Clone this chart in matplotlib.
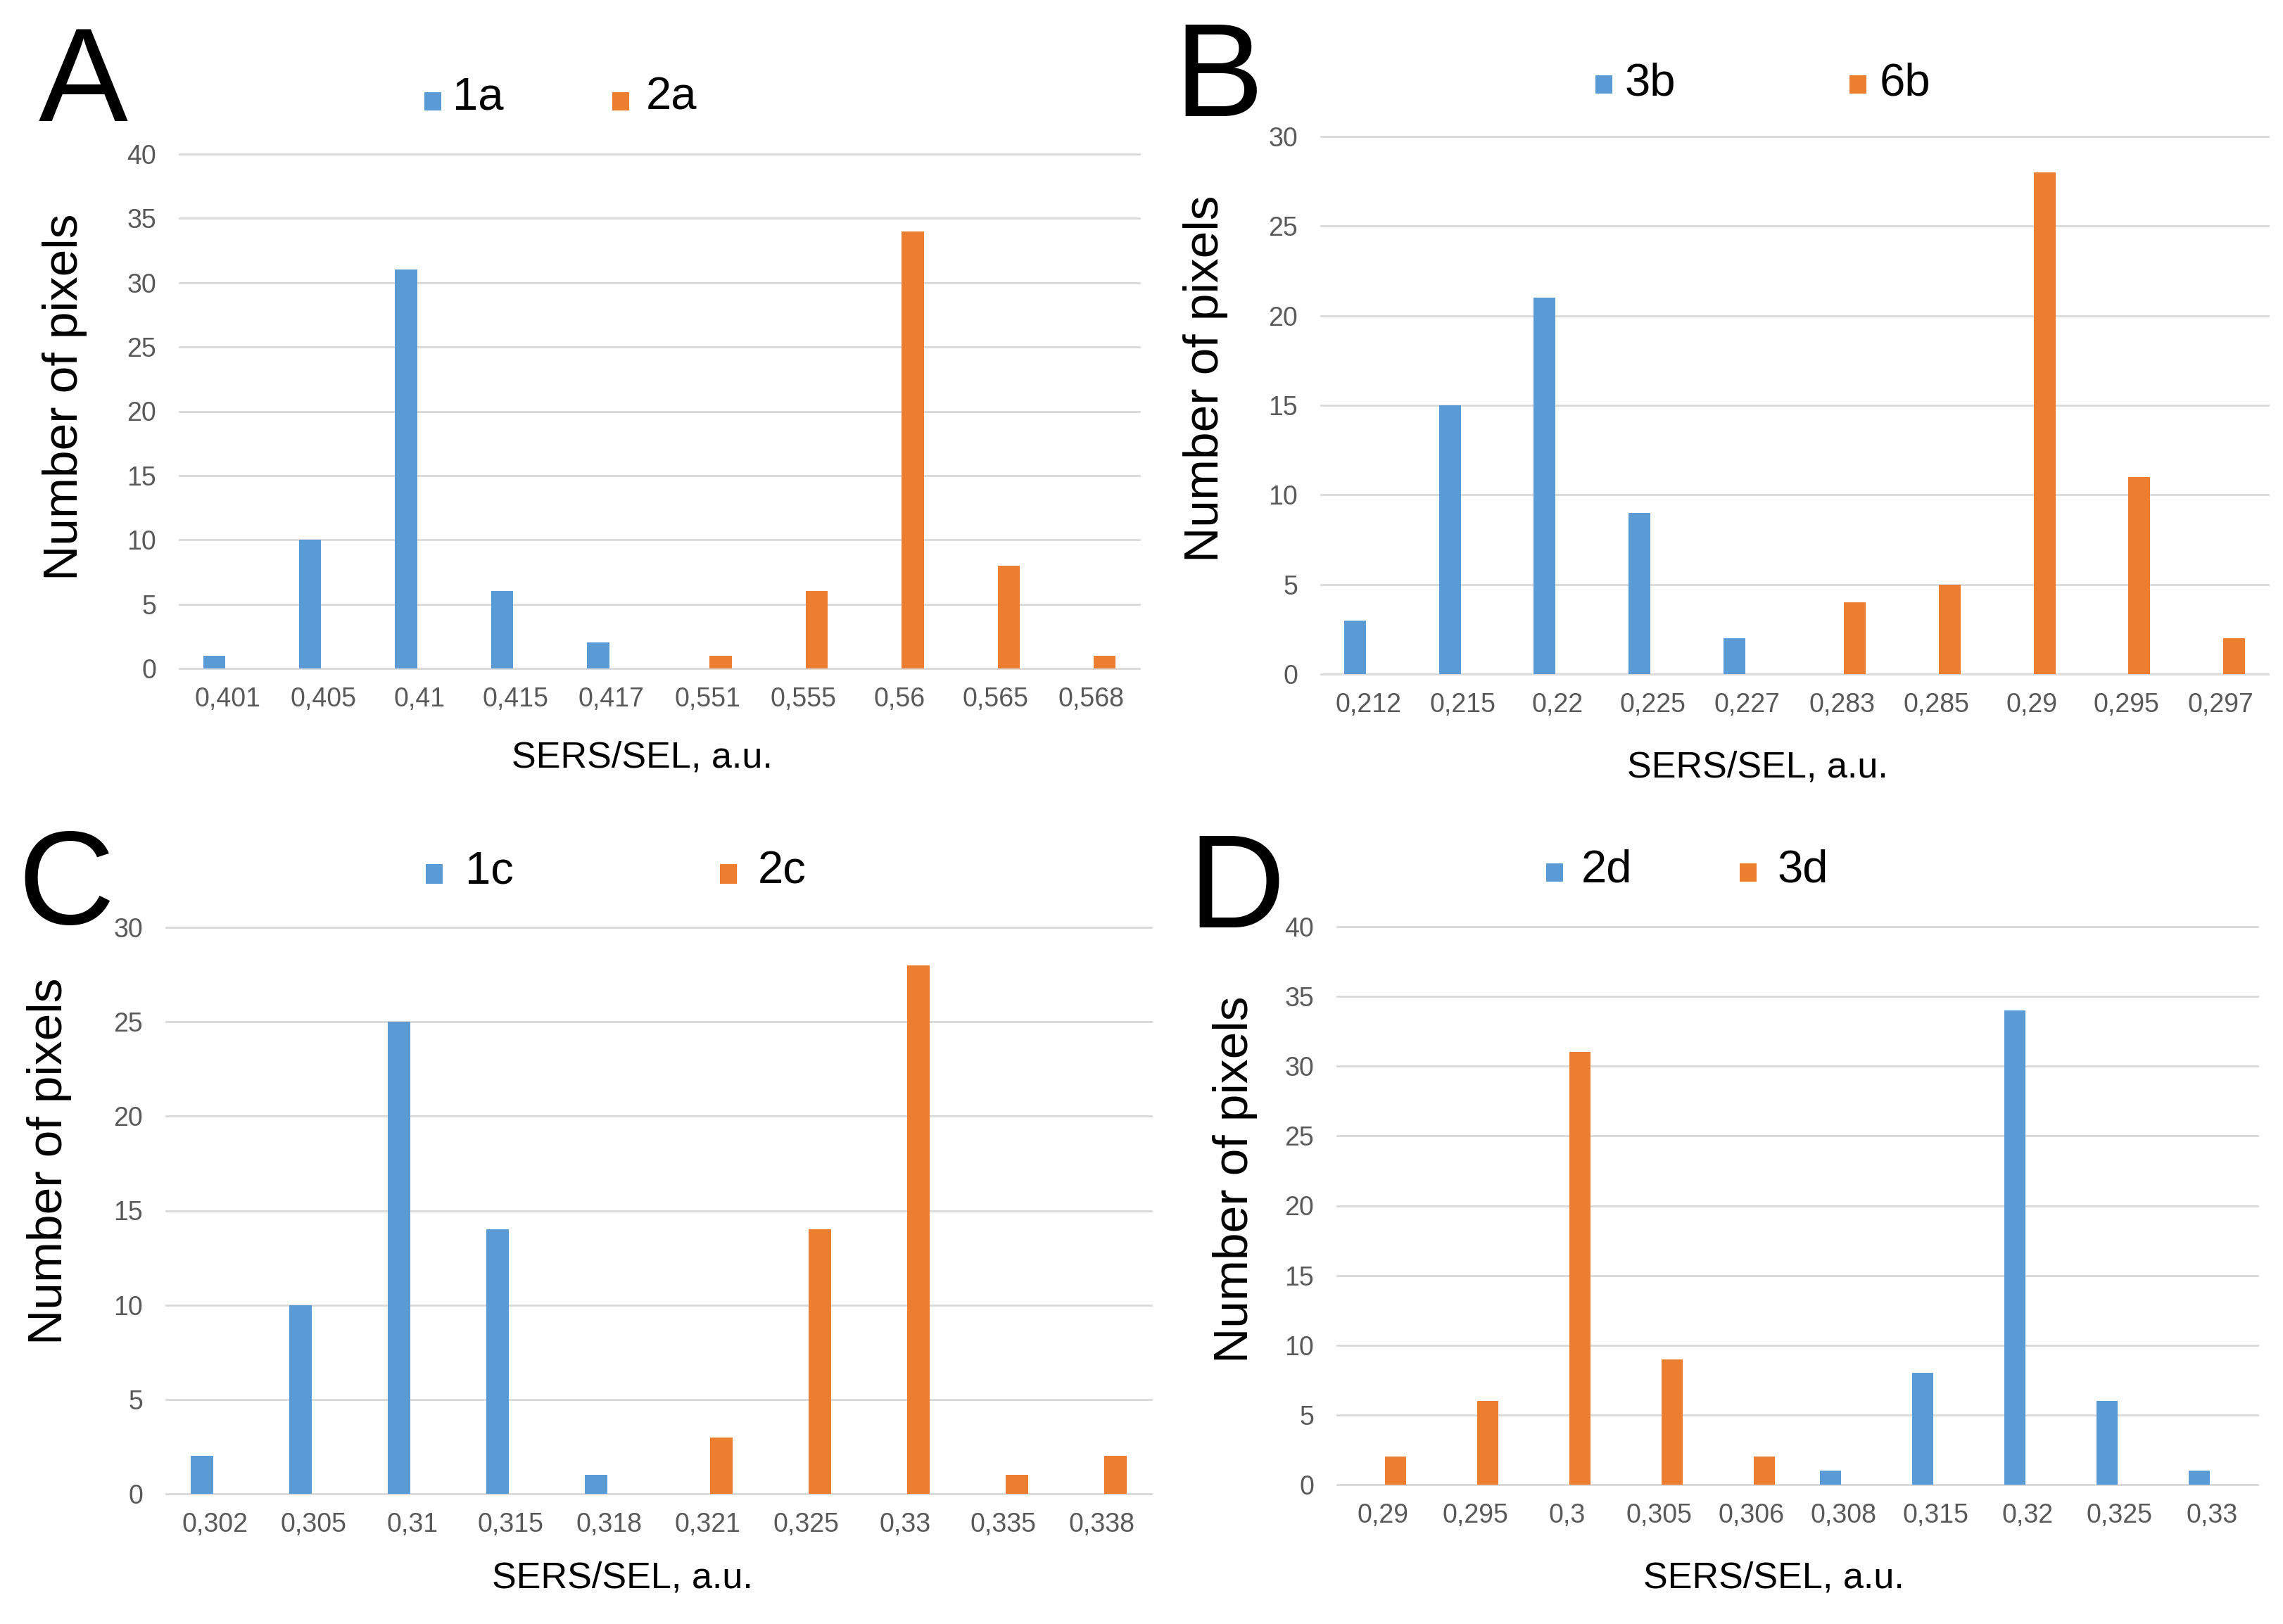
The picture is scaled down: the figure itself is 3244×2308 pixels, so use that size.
import matplotlib
matplotlib.use("Agg")
import matplotlib.pyplot as plt
from matplotlib.patches import Rectangle
import numpy as np

plt.rcParams['font.family'] = ['Liberation Sans', 'DejaVu Sans']

# ---------------- data ----------------
cats_A = ["0,401", "0,405", "0,41", "0,415", "0,417", "0,551", "0,555", "0,56", "0,565", "0,568"]
s1_A = [1, 10, 31, 6, 2, 0, 0, 0, 0, 0]
s2_A = [0, 0, 0, 0, 0, 1, 6, 34, 8, 1]
names_A = ["1a", "2a"]

cats_B = ["0,212", "0,215", "0,22", "0,225", "0,227", "0,283", "0,285", "0,29", "0,295", "0,297"]
s1_B = [3, 15, 21, 9, 2, 0, 0, 0, 0, 0]
s2_B = [0, 0, 0, 0, 0, 4, 5, 28, 11, 2]
names_B = ["3b", "6b"]

cats_C = ["0,302", "0,305", "0,31", "0,315", "0,318", "0,321", "0,325", "0,33", "0,335", "0,338"]
s1_C = [2, 10, 25, 14, 1, 0, 0, 0, 0, 0]
s2_C = [0, 0, 0, 0, 0, 3, 14, 28, 1, 2]
names_C = ["1c", "2c"]

cats_D = ["0,29", "0,295", "0,3", "0,305", "0,306", "0,308", "0,315", "0,32", "0,325", "0,33"]
s1_D = [0, 0, 0, 0, 0, 1, 8, 34, 6, 1]
s2_D = [2, 6, 31, 9, 2, 0, 0, 0, 0, 0]
names_D = ["2d", "3d"]

ymax_A, ymax_B, ymax_C, ymax_D = 40, 30, 30, 40

BLUE = "#5b9bd5"
ORANGE = "#ed7d31"
GRID = "#d9d9d9"
TICKC = "#595959"

W, H = 3244, 2308
fig = plt.figure(figsize=(W / 100, H / 100), dpi=100)
fig.patch.set_facecolor("white")


def fx(x):
    return x / W


def fy(y):
    return 1 - y / H


def panel(box, cats, v1, v2, ymax, names, letter, letter_pos, leg, xlab_pos, ylab_pos):
    left, right, top, bottom = box
    ax = fig.add_axes([fx(left), fy(bottom), (right - left) / W, (bottom - top) / H])
    x = np.arange(len(cats))
    bw = 0.23
    off = 0.138
    ax.bar(x - off, v1, width=bw, color=BLUE, zorder=3)
    ax.bar(x + off, v2, width=bw, color=ORANGE, zorder=3)
    ax.set_xlim(-0.5, len(cats) - 0.5)
    ax.set_ylim(0, ymax)
    ax.set_yticks(np.arange(0, ymax + 1, 5))
    ax.set_xticks(x)
    ax.set_xticklabels(cats)
    for s in ax.spines.values():
        s.set_visible(False)
    ax.tick_params(axis="both", length=0, labelsize=27, labelcolor=TICKC)
    ax.tick_params(axis="y", pad=23.5)
    ax.tick_params(axis="x", pad=19)
    ax.yaxis.grid(True, color=GRID, linewidth=2.0, zorder=0)
    for gl in ax.yaxis.get_gridlines():
        gl.set_clip_on(False)
    ax.set_axisbelow(True)
    # panel letter
    fig.text(fx(letter_pos[0]), fy(letter_pos[1]), letter, fontsize=137,
             ha="left", va="baseline", color="black")
    # legend (manual placement)
    (m1, t1, m2, t2, mtop, mbot, base) = leg
    for mx, tx, col, nm in [(m1, t1, BLUE, names[0]), (m2, t2, ORANGE, names[1])]:
        fig.add_artist(Rectangle((fx(mx), fy(mbot)), 24 / W, (mbot - mtop) / H,
                                 transform=fig.transFigure, color=col, lw=0))
        fig.text(fx(tx), fy(base), nm, fontsize=47, ha="left", va="baseline", color="black")
    fig.text(fx(xlab_pos[0]), fy(xlab_pos[1]), "SERS/SEL, a.u.", fontsize=37.5,
             ha="center", va="center", color="black")
    fig.text(fx(ylab_pos[0]), fy(ylab_pos[1]), "Number of pixels", fontsize=50,
             ha="center", va="center", rotation=90, color="black")
    return ax


panel((255, 1619, 219, 950), cats_A, s1_A, s2_A, ymax_A, names_A, "A", (55, 172),
      (603, 643, 870, 918, 131, 157, 155), (912, 1077), (92, 564))
panel((1877, 3223, 194, 958), cats_B, s1_B, s2_B, ymax_B, names_B, "B", (1668, 165),
      (2267, 2309, 2628, 2671, 107, 133, 136), (2497, 1091), (1713, 538))
panel((236, 1636, 1318, 2123), cats_C, s1_C, s2_C, ymax_C, names_C, "C", (25, 1313),
      (605, 661, 1023, 1077, 1228, 1256, 1256), (884, 2243), (70, 1650))
panel((1900, 3208, 1317, 2110), cats_D, s1_D, s2_D, ymax_D, names_D, "D", (1688, 1318),
      (2197, 2247, 2472, 2526, 1227, 1253, 1253), (2520, 2243), (1755, 1676))

fig.savefig("out.png", dpi=100, facecolor="white")
